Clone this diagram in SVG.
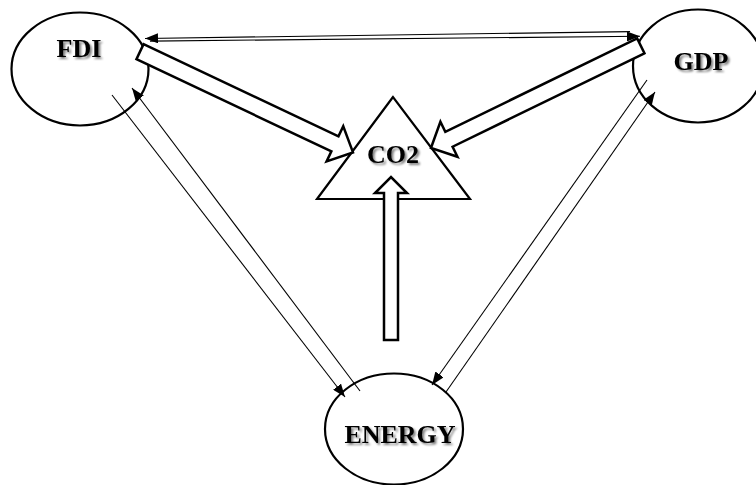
<svg xmlns="http://www.w3.org/2000/svg" width="756" height="485" viewBox="0 0 756 485">
<defs>
<style>
.node{fill:#fff;stroke:#000;stroke-width:2.2}
.lbl{font-family:"Liberation Serif","Times New Roman",serif;font-weight:bold;font-size:26px;fill:#000;text-anchor:middle;filter:url(#sh)}
.thin{fill:none;stroke:#000;stroke-width:1.1}
.block{fill:#fff;stroke:#000;stroke-width:2.5;stroke-linejoin:miter}
</style>
<filter id="sh" x="-20%" y="-30%" width="140%" height="160%">
<feGaussianBlur in="SourceAlpha" stdDeviation="1.3" result="b"/>
<feOffset in="b" dx="1.5" dy="2" result="o"/>
<feComponentTransfer in="o" result="s"><feFuncA type="linear" slope="0.5"/></feComponentTransfer>
<feMerge><feMergeNode in="s"/><feMergeNode in="SourceGraphic"/></feMerge>
</filter>
<marker id="ah" markerUnits="userSpaceOnUse" markerWidth="14" markerHeight="10" refX="13" refY="5" orient="auto">
<path d="M0,0 L13,5 L0,10 z" fill="#000"/>
</marker>
</defs>
<g id="fdi"><ellipse class="node" cx="80" cy="69" rx="68.5" ry="56.5"/><text class="lbl" x="79" y="57">FDI</text></g>
<g id="gdp"><ellipse class="node" cx="698" cy="66" rx="65" ry="56.5"/><text class="lbl" x="701" y="70">GDP</text></g>
<g id="energy"><ellipse class="node" cx="394" cy="429" rx="69" ry="55.5"/><text class="lbl" x="400" y="443">ENERGY</text></g>
<g id="co2"><polygon class="node" points="393,97 317,199 470,199"/><text class="lbl" x="393" y="163">CO2</text></g>
<g id="connectors">
<line class="thin" x1="630" y1="31.6" x2="145" y2="38.5" marker-end="url(#ah)"/>
<line class="thin" x1="150" y1="41.1" x2="640" y2="36.3" marker-end="url(#ah)"/>
<line class="thin" x1="112" y1="95" x2="345" y2="397" marker-end="url(#ah)"/>
<line class="thin" x1="360" y1="391" x2="132" y2="88" marker-end="url(#ah)"/>
<line class="thin" x1="647" y1="80" x2="432" y2="385" marker-end="url(#ah)"/>
<line class="thin" x1="446" y1="392" x2="655" y2="92" marker-end="url(#ah)"/>
<polygon class="block" transform="translate(140,51.7) rotate(25.3)" points="0,-8.3 215.6,-8.3 215.6,-19.5 235.6,0 215.6,19.5 215.6,8.3 0,8.3"/>
<polygon class="block" transform="translate(640.8,45.8) rotate(154.03)" points="0,-8.3 213.4,-8.3 213.4,-19.5 233.4,0 213.4,19.5 213.4,8.3 0,8.3"/>
<polygon class="block" points="384,340 384,193 375,193 391,177 407,193 398,193 398,340"/>
</g>
</svg>
